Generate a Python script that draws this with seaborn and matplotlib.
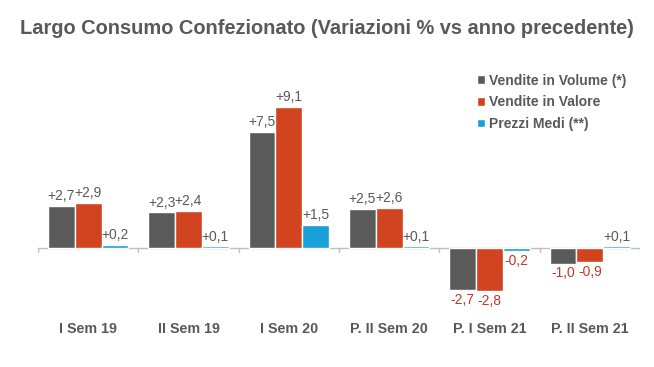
import matplotlib
matplotlib.use("Agg")
import matplotlib.pyplot as plt
import pandas as pd
import seaborn as sns

periodi = ["I Sem 19", "II Sem 19", "I Sem 20", "P. II Sem 20", "P. I Sem 21", "P. II Sem 21"]
volume = [2.7, 2.3, 7.5, 2.5, -2.7, -1.0]
valore = [2.9, 2.4, 9.1, 2.6, -2.8, -0.9]
prezzi = [0.2, 0.1, 1.5, 0.1, -0.2, 0.1]
serie = ["Vendite in Volume (*)", "Vendite in Valore", "Prezzi Medi (**)"]
colori = ["#5a5a5a", "#d2431f", "#1a9fd9"]

df = pd.DataFrame({
    "periodo": periodi * 3,
    "serie": [serie[0]] * 6 + [serie[1]] * 6 + [serie[2]] * 6,
    "val": volume + valore + prezzi,
})

sns.set_style("white")
plt.rcParams["font.family"] = ["Liberation Sans", "DejaVu Sans"]

fig = plt.figure(figsize=(6.54, 3.67), dpi=100)
ax = fig.add_axes([38 / 654, 1 - 315 / 367, 602 / 654, 260 / 367])

sns.barplot(data=df, x="periodo", y="val", hue="serie", palette=colori,
            width=0.8, saturation=1, ax=ax, legend=True)

ax.set_xlim(-0.5, len(periodi) - 0.5)
ax.set_ylim(-4.32, 12.45)

# etichette valori
for cont in ax.containers:
    vals = cont.datavalues
    labs = [("+" if v >= 0 else "") + f"{v:.1f}".replace(".", ",") for v in vals]
    texts = ax.bar_label(cont, labels=labs, padding=2, fontsize=10)
    for t, v in zip(texts, vals):
        t.set_color("#595959" if v >= 0 else "#c0392b")

# asse dello zero
ax.axhline(0, color="#bfbfbf", lw=1, zorder=0)
for i in range(len(periodi) + 1):
    ax.plot([i - 0.5, i - 0.5], [0, -0.25], color="#bfbfbf", lw=1, zorder=0)

for s in ax.spines.values():
    s.set_visible(False)
ax.set_yticks([])
ax.set_xlabel("")
ax.set_ylabel("")
ax.tick_params(axis="x", length=0, pad=5)
for lab in ax.get_xticklabels():
    lab.set_fontweight("bold")
    lab.set_color("#595959")
    lab.set_fontsize(10.3)

leg = ax.legend(loc="upper left", bbox_to_anchor=(0.72, 0.95), frameon=False,
                fontsize=10, handlelength=0.6, handleheight=0.6, handletextpad=0.3,
                labelspacing=0.55, borderaxespad=0)
for t in leg.get_texts():
    t.set_fontweight("bold")
    t.set_color("#595959")

fig.text(0.5, 1 - 29 / 367, "Largo Consumo Confezionato (Variazioni % vs anno precedente)",
         ha="center", va="center", fontsize=14.4, fontweight="bold", color="#595959")

fig.savefig("out.png", dpi=100)
